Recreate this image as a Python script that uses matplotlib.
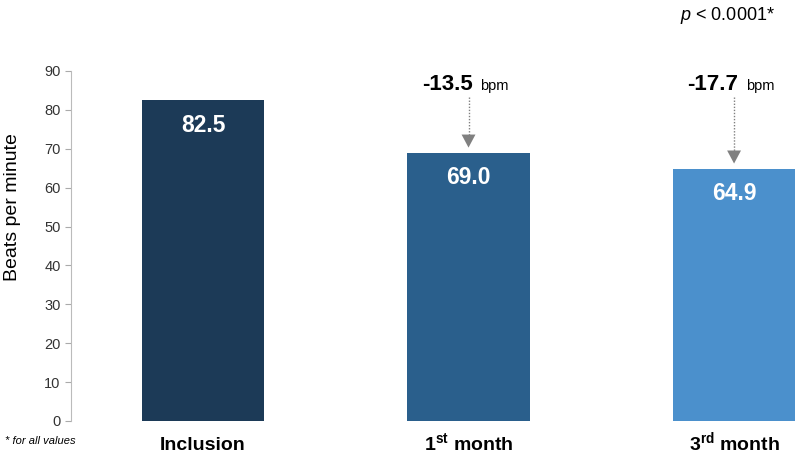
import numpy as np
import matplotlib.pyplot as plt
from matplotlib import font_manager

# pick a narrow sans if one is around
names = {f.name for f in font_manager.fontManager.ttflist}
narrow = 'Liberation Sans Narrow' if 'Liberation Sans Narrow' in names else 'Liberation Sans'
plt.rcParams['font.family'] = [narrow, 'DejaVu Sans']
plt.rcParams['mathtext.fontset'] = 'custom'
plt.rcParams['mathtext.rm'] = narrow
plt.rcParams['mathtext.it'] = narrow + ':italic'
plt.rcParams['mathtext.bf'] = narrow + ':bold'

# data
categories = ['Inclusion', r'1$^{\mathbf{st}}$ month', r'3$^{\mathbf{rd}}$ month']
values = [82.5, 69.0, 64.9]
changes = [None, '-13.5', '-17.7']
bar_colors = ['#1C3A57', '#2A5F8C', '#4B90CC']
yticks = [0, 10, 20, 30, 40, 50, 60, 70, 80, 90]

fig = plt.figure(figsize=(7.97, 4.53), dpi=100)
ax = fig.add_axes([71 / 797, 1 - 421 / 453, 1 - 71 / 797, 350 / 453])

x = np.arange(len(values))
ax.bar(x, values, width=0.46, color=bar_colors)
ax.set_xlim(-0.497, 2.237)
ax.set_ylim(0, 90)

for xi, v in zip(x, values):
    ax.text(xi, v - 6.4, f'{v:.1f}', ha='center', va='center', color='white',
            fontsize=16.5, fontweight='bold')

px = 1 / 265.5  # one pixel in x data units
for xi, v, c in zip(x, values, changes):
    if c is None:
        continue
    ax.text(xi + 4 * px, 85.1, c, ha='right', va='baseline', fontsize=16,
            fontweight='bold', clip_on=False)
    ax.text(xi + 12 * px, 85.1, 'bpm', ha='left', va='baseline', fontsize=10.5,
            clip_on=False)
    ax.plot([xi, xi], [83.2, v + 4.6], linestyle=(0, (1, 1.2)), color='#808080', lw=1)
    ax.annotate('', xy=(xi, v + 1.3), xytext=(xi, v + 4.8),
                arrowprops=dict(arrowstyle='-|>,head_length=0.47,head_width=0.25',
                                mutation_scale=20, color='#808080', lw=0,
                                shrinkA=0, shrinkB=0))

ax.set_xticks(x)
ax.set_xticklabels(categories, fontsize=14, fontweight='bold')
for lbl in ax.get_xticklabels():
    lbl.set_va('baseline')
ax.tick_params(axis='x', length=0, pad=21)
ax.set_yticks(yticks)
ax.tick_params(axis='y', labelsize=10.5, labelcolor='#333333', color='#AAAAAA',
               length=4, direction='out')
ax.set_ylabel('Beats per minute', fontsize=14)
ax.yaxis.set_label_coords(-0.069, 0.61)

for s in ['top', 'right', 'bottom']:
    ax.spines[s].set_visible(False)
ax.spines['left'].set_color('#BBBBBB')

fig.text(727 / 797, 1 - 16 / 453, r'$\it{p}$ < 0.0001*', ha='center', va='center', fontsize=13)
fig.text(5 / 797, 1 - 441 / 453, '* for all values', ha='left', va='center',
         fontsize=8, style='italic')

fig.savefig('out.png', dpi=100)
